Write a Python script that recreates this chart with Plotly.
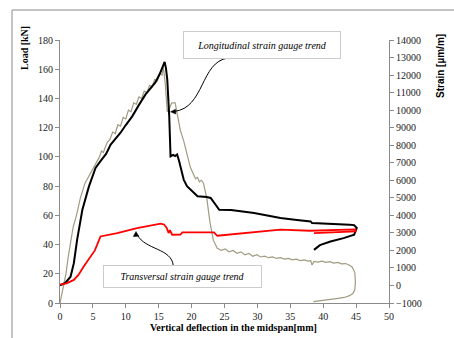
import plotly.graph_objects as go

# ---- data ----
load_defl = [0, 0.5, 0.9, 1.3, 1.7, 2.0, 2.5, 3.1, 3.8, 4.5, 5.4, 6.0, 6.3, 6.6, 6.9, 7.2, 7.6, 8.0, 8.4, 8.8, 9.2,
             9.6, 10.0, 10.4, 10.8, 11.2, 11.6, 12.0, 12.4, 12.8, 13.2, 13.6, 14.0, 14.4, 14.8, 15.2, 15.5, 15.7,
             16.0, 16.3, 16.6, 17.0, 17.5, 17.9, 18.3, 18.8, 19.3, 19.8, 20.3, 20.6, 20.9, 21.2, 21.5, 21.8, 22.3,
             22.8, 23.3, 23.9, 24.5, 25.1, 25.7, 26.3, 26.9, 27.5, 28.1, 28.7, 29.3, 29.9, 30.5, 31.1, 31.7, 32.3,
             32.9, 33.5, 34.1, 34.7, 35.3, 35.9, 36.5, 37.1, 37.7, 38.1, 38.3, 38.6, 39.2, 39.8, 40.4, 41.0, 41.6,
             42.2, 42.8, 43.4, 44.0, 44.4, 44.8, 44.9, 44.8, 44.5, 44.0, 43.2, 42.0, 40.5, 39.3, 38.5]
load_kn = [0, 10, 20, 33, 45, 52, 60, 72, 82, 88, 95, 100, 104, 103, 107, 110, 112, 117, 116, 122, 121,
           127, 126, 132, 131, 137, 136, 141, 140, 145, 144, 149, 148, 153, 152, 157, 156, 161.5,
           150, 131, 133, 137, 137, 128, 118, 111, 102, 93, 88, 85, 86, 83, 84, 82, 72,
           55, 43, 37.5, 36, 37, 35, 36, 34, 35, 33, 34, 32, 33, 31.5, 32, 31, 31.5,
           30.5, 31, 30, 30.5, 29.5, 30, 29, 29.5, 28.7, 29, 26, 28.5, 28, 28.7, 27.8, 28.3, 27.3,
           27.8, 26.8, 27, 25.8, 24.7, 21, 14, 9, 6.5, 5, 3.8, 3, 2.2, 1.5, 1]

long_defl = [0, 0.8, 1.6, 2.1, 2.6, 3.4, 4.4, 5.4, 6.15, 7.0, 7.7, 8.4, 9.2, 10.0, 11.0, 12.0, 13.0, 14.5, 15.2,
             15.9, 16.1, 16.3, 16.6, 16.8, 17.2, 17.5, 17.8, 18.1, 18.3, 18.8, 19.3, 20.3, 20.9, 22.3, 22.9, 24.2,
             26.0, 29.5, 33.5, 36.0, 38.1, 38.3, 40.0, 42.0, 44.0, 44.7, 45.1, 44.7, 43.1, 41.1, 39.5, 38.6]
long_strain = [0, 150, 500, 1270, 2600, 4320, 5650, 6700, 7090, 7500, 8040, 8330, 8710, 9150, 9660, 10300, 10900,
               11580, 12100, 12750, 12400, 11760, 9660, 7370, 7450, 7380, 7470, 7100, 6800, 6040, 5660, 5280,
               5085, 5050, 4990, 4320, 4300, 4135, 3850, 3740, 3650, 3560, 3540, 3500, 3470, 3440, 3276, 2890,
               2700, 2510, 2300, 2030]

trans_defl = [0, 1.0, 2.1, 2.8, 3.6, 4.5, 5.3, 6.15, 8.7, 11.7, 13.5, 15.3, 15.8, 16.2, 16.5, 16.7, 17.05, 18.3,
              18.6, 21.0, 23.4, 23.9, 28.0, 33.5, 38.0, 41.0, 44.9, 44.9, 41.0, 38.6]
trans_strain = [50, 120, 316, 600, 1078, 1600, 2000, 2795, 2990, 3276, 3400, 3530, 3480, 3300, 2990, 3150, 2892,
                2900, 3024, 3030, 3024, 2835, 3000, 3180, 3120, 3150, 3200, 3080, 3040, 2990]

x_ticks = list(range(0, 51, 5))
y_ticks = list(range(0, 181, 20))
y2_ticks = list(range(-1000, 14001, 1000))

# ---- figure ----
W, H = 454, 338
L, R, T, B = 60, 65, 40, 35
PW, PH = W - L - R, H - T - B


def fx(px):
    return (px - L) / PW


def fy(py):
    return (H - B - py) / PH


fig = go.Figure()
fig.add_trace(go.Scatter(x=load_defl, y=load_kn, mode="lines",
                         line=dict(color="#a19b80", width=1.2), yaxis="y"))
fig.add_trace(go.Scatter(x=long_defl, y=long_strain, mode="lines",
                         line=dict(color="#000000", width=2), yaxis="y2"))
fig.add_trace(go.Scatter(x=trans_defl, y=trans_strain, mode="lines",
                         line=dict(color="#ff0000", width=1.8), yaxis="y2"))

tickfont = dict(family="Liberation Serif", size=10, color="#222222")
axis_common = dict(showgrid=False, zeroline=False, showline=True, linecolor="#8a8a8a", linewidth=1,
                   ticks="outside", ticklen=4, tickcolor="#8a8a8a", tickfont=tickfont)

fig.update_layout(
    width=W, height=H, margin=dict(l=L, r=R, t=T, b=B),
    paper_bgcolor="white", plot_bgcolor="white", showlegend=False,
    xaxis=dict(range=[0, 50], tickvals=x_ticks, **axis_common),
    yaxis=dict(range=[0, 180], tickvals=y_ticks, **axis_common),
    yaxis2=dict(range=[-1000, 14000], tickvals=y2_ticks, tickformat="d", overlaying="y", side="right",
                **axis_common),
)

# outer frame
fig.add_shape(type="line", xref="paper", yref="paper", x0=fx(12), x1=fx(12), y0=fy(10), y1=fy(340),
              line=dict(color="#8a8a8a", width=1))
fig.add_shape(type="line", xref="paper", yref="paper", x0=fx(12), x1=fx(460), y0=fy(10), y1=fy(10),
              line=dict(color="#8a8a8a", width=1))

ann = dict(xref="paper", yref="paper", showarrow=False, xanchor="center", yanchor="middle")

# axis titles
fig.add_annotation(x=fx(24), y=fy(48), text="<b>Load [kN]</b>", textangle=-90,
                   font=dict(family="Liberation Serif", size=10, color="#000"), **ann)
fig.add_annotation(x=fx(441), y=fy(66), text="<b>Strain [µm/m]</b>", textangle=-90,
                   font=dict(family="Liberation Sans", size=10, color="#000"), **ann)
fig.add_annotation(x=fx(233), y=fy(327), text="<b>Vertical deflection in the midspan[mm]</b>",
                   font=dict(family="Liberation Serif", size=10, color="#000"), **ann)

# callout boxes
fig.add_annotation(x=fx(262), y=fy(45), text="<i>Longitudinal strain gauge trend</i>",
                   width=152, height=22, borderpad=2, bordercolor="#cccccc", borderwidth=1,
                   bgcolor="white", font=dict(family="Liberation Serif", size=10, color="#000"), **ann)
fig.add_annotation(x=fx(182.5), y=fy(276.5), text="<i>Transversal strain gauge trend</i>",
                   width=153, height=17, borderpad=2, bordercolor="#cccccc", borderwidth=1,
                   bgcolor="white", font=dict(family="Liberation Serif", size=10, color="#000"), **ann)

# curved arrows
p1 = "M{:.5f},{:.5f} C{:.5f},{:.5f} {:.5f},{:.5f} {:.5f},{:.5f}".format(
    fx(228), fy(58), fx(200), fy(62), fx(205), fy(108), fx(174), fy(111.5))
fig.add_shape(type="path", xref="paper", yref="paper", path=p1, line=dict(color="#000", width=1))
fig.add_shape(type="path", xref="paper", yref="paper",
              path="M{:.5f},{:.5f} L{:.5f},{:.5f} L{:.5f},{:.5f} Z".format(
                  fx(170.5), fy(111.8), fx(175.5), fy(109.3), fx(175.8), fy(114)),
              fillcolor="#000", line=dict(color="#000", width=0.5))

p2 = "M{:.5f},{:.5f} C{:.5f},{:.5f} {:.5f},{:.5f} {:.5f},{:.5f}".format(
    fx(173.3), fy(266), fx(172), fy(248), fx(145), fy(250), fx(137.5), fy(235))
fig.add_shape(type="path", xref="paper", yref="paper", path=p2, line=dict(color="#000", width=1))
fig.add_shape(type="path", xref="paper", yref="paper",
              path="M{:.5f},{:.5f} L{:.5f},{:.5f} L{:.5f},{:.5f} Z".format(
                  fx(136), fy(231.5), fx(133.3), fy(236.5), fx(138.7), fy(236.2)),
              fillcolor="#000", line=dict(color="#000", width=0.5))

fig.write_html("out.html")
